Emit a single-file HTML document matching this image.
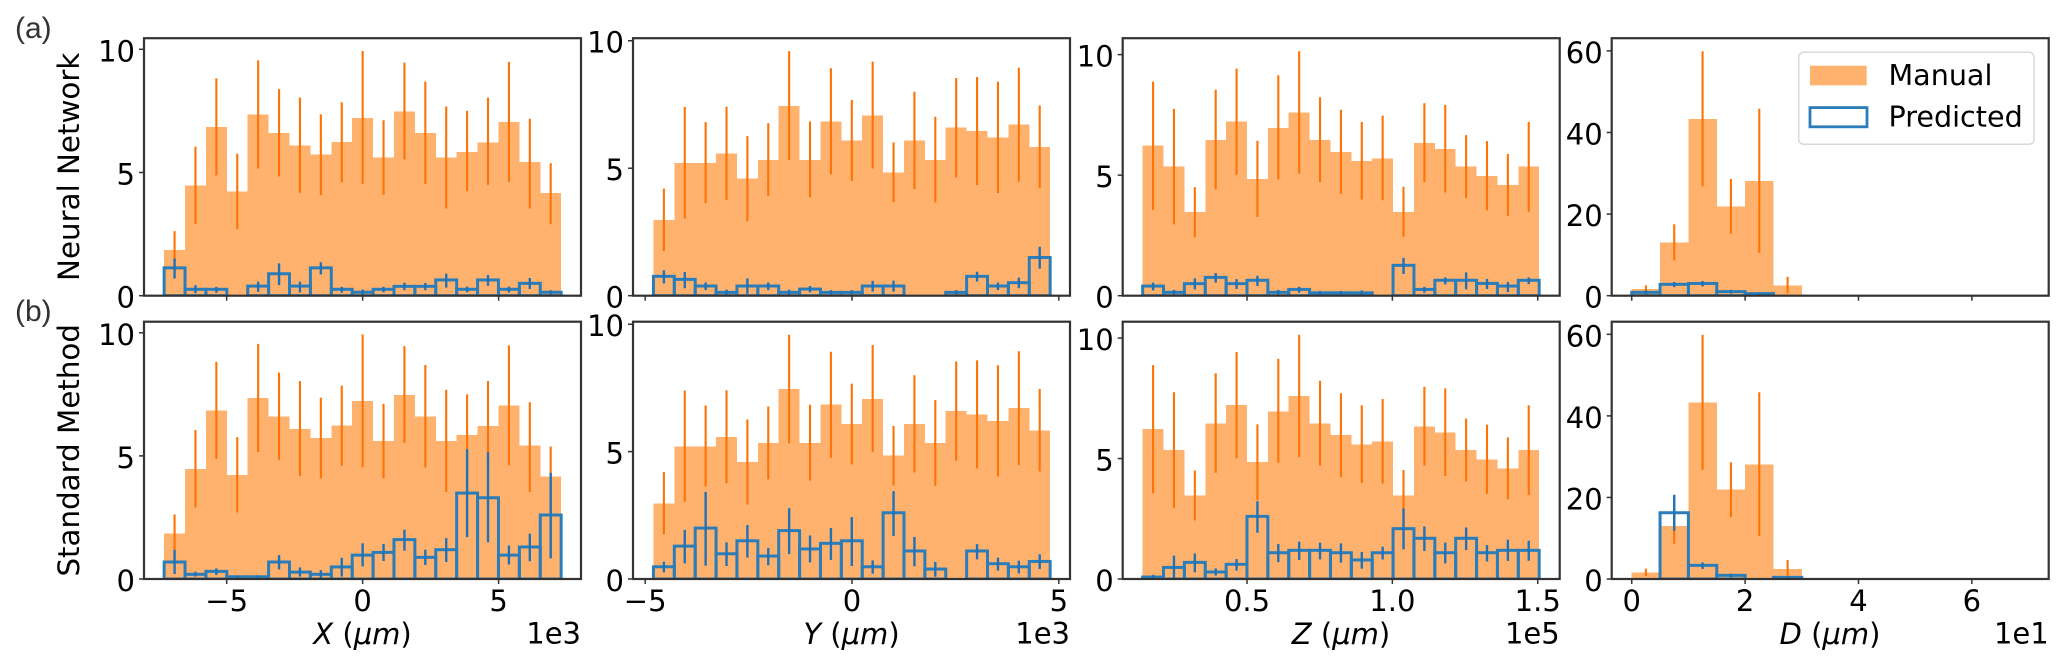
<!DOCTYPE html>
<html lang="en">
<head>
<meta charset="utf-8">
<title>Manual vs predicted histograms</title>
<style>
  html, body { margin: 0; padding: 0; background: #fff; }
  #figure { display: block; width: 2067px; height: 668px; font-family: "DejaVu Sans", "Liberation Sans", sans-serif; }
  #figure text { font-family: "DejaVu Sans", "Liberation Sans", sans-serif; fill: #000; }
  #figure text.letter { font-family: "Liberation Sans", "DejaVu Sans", sans-serif; fill: #333; font-size: 30px; }
  .em { font-style: italic; }
</style>
</head>
<body>
<svg id="figure" xmlns="http://www.w3.org/2000/svg" width="2067" height="668" viewBox="0 0 2067 668">
  <rect x="0" y="0" width="2067" height="668" fill="#ffffff"/>
  <g id="panels"></g>

  <text class="letter" x="15" y="38">(a)</text>
  <text class="letter" x="15" y="321">(b)</text>

  <text x="79" y="166.8" font-size="29.3" text-anchor="middle" transform="rotate(-90 79 166.8)">Neural Network</text>
  <text x="79" y="450.3" font-size="29.3" text-anchor="middle" transform="rotate(-90 79 450.3)">Standard Method</text>

  <text x="362.5" y="644" font-size="29" text-anchor="middle"><tspan class="em">X</tspan> (<tspan class="em">μm</tspan>)</text>
  <text x="851.5" y="644" font-size="29" text-anchor="middle"><tspan class="em">Y</tspan> (<tspan class="em">μm</tspan>)</text>
  <text x="1341" y="644" font-size="29" text-anchor="middle"><tspan class="em">Z</tspan> (<tspan class="em">μm</tspan>)</text>
  <text x="1830" y="644" font-size="29" text-anchor="middle"><tspan class="em">D</tspan> (<tspan class="em">μm</tspan>)</text>

  <text x="581" y="643.5" font-size="29" text-anchor="end">1e3</text>
  <text x="1070" y="643.5" font-size="29" text-anchor="end">1e3</text>
  <text x="1559.7" y="643.5" font-size="29" text-anchor="end">1e5</text>
  <text x="2048.7" y="643.5" font-size="29" text-anchor="end">1e1</text>

  <g id="legend">
    <rect x="1798.7" y="52.3" width="235.3" height="92" rx="5" ry="5" fill="#ffffff" fill-opacity="0.85" stroke="#d9d9d9" stroke-width="1.5"/>
    <rect x="1810" y="65.7" width="56.7" height="19.6" fill="#ffb26e"/>
    <text x="1888.5" y="85" font-size="28.6">Manual</text>
    <rect x="1810" y="107.6" width="57" height="19.2" fill="none" stroke="#2a7db9" stroke-width="2.8"/>
    <text x="1888.5" y="126.7" font-size="28.6">Predicted</text>
  </g>
</svg>

<script>
// ---------- tick values and labels ----------
const xTicksX = [-5, 0, 5];
const xTickLabelsX = ['\u22125', '0', '5'];
const xTicksY = [-5, 0, 5];
const xTickLabelsY = ['\u22125', '0', '5'];
const xTicksZ = [0.5, 1.0, 1.5];
const xTickLabelsZ = ['0.5', '1.0', '1.5'];
const xTicksD = [0, 2, 4, 6];
const xTickLabelsD = ['0', '2', '4', '6'];
const yTicksCount = [0, 5, 10];
const yTickLabelsCount = ['0', '5', '10'];
const yTicksD = [0, 20, 40, 60];
const yTickLabelsD = ['0', '20', '40', '60'];

// ---------- histogram bin ranges ----------
const binRangeX = [-7.3, 7.3];
const binRangeY = [-4.8, 4.79];
const binRangeZ = [0.141, 1.505];
const binRangeD = [0, 7];

// ---------- manual counts and error-bar ends ----------
const manualX   = [1.85,4.47,6.85,4.23,7.35,6.6,6.1,5.73,6.23,7.22,5.6,7.47,6.6,5.6,5.84,6.22,7.05,5.42,4.16];
const manualXHi = [2.62,6.05,8.82,5.76,9.55,8.38,8.04,7.36,7.85,9.93,7.12,9.46,8.69,7.68,7.5,8.04,9.49,7.18,5.38];
const manualXLo = [1.08,2.9,4.88,2.7,5.16,4.84,4.18,4.08,4.6,4.54,4.09,5.53,4.53,3.54,4.24,4.5,4.62,3.54,2.9];

const manualY   = [2.97,5.2,5.2,5.58,4.59,5.33,7.45,5.33,6.84,6.09,7.07,4.84,6.09,5.33,6.59,6.46,6.21,6.71,5.83];
const manualYHi = [4.2,7.4,6.81,7.41,6.26,6.77,9.59,6.84,8.92,7.67,9.18,6.01,8.0,7.02,8.54,8.58,8.39,8.94,7.46];
const manualYLo = [1.75,3.03,3.63,3.76,2.92,3.91,5.32,3.86,4.76,4.5,4.99,3.67,4.18,3.66,4.64,4.34,4.03,4.47,4.22];

const manualZ   = [6.22,5.35,3.47,6.46,7.22,4.85,6.96,7.6,6.46,5.97,5.58,5.7,3.47,6.34,6.09,5.35,4.97,4.59,5.35];
const manualZHi = [8.88,7.75,4.5,8.54,9.42,6.42,9.14,10.14,8.23,7.71,7.21,7.47,4.52,7.98,7.91,6.66,6.41,5.88,7.21];
const manualZLo = [3.56,2.96,2.43,4.41,5.01,3.27,4.82,5.06,4.71,4.23,3.99,3.96,2.44,4.71,4.28,4.05,3.54,3.31,3.48];

const manualD   = [1.63,13,43.3,21.9,28.1,2.45,0,0,0,0,0,0,0,0];
const manualDHi = [2.53,17.5,59.9,28.6,45.8,4.65,0,0,0,0,0,0,0,0];
const manualDLo = [0.73,8.65,26.8,15.2,10.5,0.57,0,0,0,0,0,0,0,0];

// ---------- neural network predicted counts ----------
const nnX   = [1.13,0.26,0.26,0,0.39,0.89,0.39,1.13,0.26,0.14,0.26,0.38,0.38,0.64,0.26,0.64,0.26,0.5,0.14];
const nnXHi = [1.51,0.43,0.36,0,0.57,1.31,0.57,1.36,0.36,0.25,0.36,0.53,0.52,0.89,0.37,0.84,0.37,0.72,0.22];
const nnXLo = [0.7,0.1,0.12,0,0.16,0.43,0.13,0.86,0.12,0.03,0.14,0.22,0.22,0.33,0.14,0.4,0.13,0.27,0.05];

const nnY   = [0.76,0.64,0.38,0.13,0.38,0.38,0.13,0.26,0.13,0.13,0.38,0.38,0,0,0.13,0.76,0.38,0.51,1.5];
const nnYHi = [1.0,0.93,0.52,0.24,0.68,0.52,0.24,0.38,0.22,0.22,0.58,0.59,0,0,0.22,0.94,0.52,0.71,1.92];
const nnYLo = [0.48,0.29,0.22,0.04,0.07,0.22,0.04,0.13,0.05,0.05,0.16,0.16,0,0,0.05,0.55,0.22,0.29,1.06];

const nnZ   = [0.4,0.14,0.5,0.76,0.5,0.64,0.14,0.26,0.12,0.12,0.12,0,1.26,0.26,0.64,0.64,0.51,0.4,0.64];
const nnZHi = [0.54,0.24,0.72,0.94,0.69,0.83,0.24,0.37,0.2,0.2,0.22,0,1.57,0.37,0.76,0.97,0.7,0.57,0.76];
const nnZLo = [0.22,0.04,0.26,0.54,0.28,0.4,0.04,0.12,0.04,0.04,0.03,0,0.9,0.12,0.47,0.26,0.28,0.15,0.48];

const nnD   = [0.82,2.78,3.0,1.0,0.5,0,0,0,0,0,0,0,0,0];
const nnDHi = [1.3,3.35,3.6,1.45,0.75,0,0,0,0,0,0,0,0,0];
const nnDLo = [0.33,2.1,2.3,0.5,0.17,0,0,0,0,0,0,0,0,0];

// ---------- standard method predicted counts ----------
const stdX   = [0.69,0.19,0.31,0.09,0.09,0.69,0.28,0.19,0.49,0.97,1.08,1.6,0.88,1.19,3.49,3.3,0.97,1.3,2.6];
const stdXHi = [1.18,0.3,0.43,0.15,0.15,0.97,0.47,0.36,0.86,1.45,1.42,2.0,1.19,1.66,5.27,5.15,1.36,1.84,4.31];
const stdXLo = [0.2,0.1,0.16,0.03,0.03,0.39,0.1,0.05,0.1,0.51,0.73,1.15,0.57,0.69,1.7,1.49,0.59,0.72,0.84];

const stdY   = [0.48,1.29,2.0,0.99,1.5,0.9,1.9,1.18,1.4,1.5,0.48,2.6,1.1,0.39,0,1.1,0.6,0.48,0.69];
const stdYHi = [0.68,1.93,3.42,1.44,2.12,1.22,2.78,1.71,2.0,2.43,0.73,3.45,1.65,0.67,0,1.37,0.84,0.72,0.97];
const stdYLo = [0.26,0.61,0.52,0.51,0.84,0.54,0.98,0.65,0.75,0.51,0.21,1.69,0.5,0.09,0,0.77,0.33,0.22,0.39];

const stdZ   = [0.08,0.48,0.69,0.29,0.61,2.6,1.09,1.19,1.19,1.09,0.79,1.09,2.09,1.69,1.09,1.69,1.09,1.19,1.19];
const stdZHi = [0.17,0.97,1.06,0.44,0.83,3.23,1.45,1.55,1.51,1.48,1.12,1.34,2.93,2.18,1.51,2.14,1.41,1.63,1.59];
const stdZLo = [0,0.03,0.28,0.14,0.35,1.92,0.7,0.79,0.81,0.68,0.43,0.81,1.23,1.16,0.65,1.2,0.73,0.75,0.76];

const stdD   = [0,16.25,3.35,0.9,0,0.4,0,0,0,0,0,0,0,0];
const stdDHi = [0,20.65,4.08,1.3,0,0.7,0,0,0,0,0,0,0,0];
const stdDLo = [0,11.84,2.45,0.4,0,0.1,0,0,0,0,0,0,0,0];

// ---------- layout (not data) ----------
const NS = 'http://www.w3.org/2000/svg';
const panelWidth = 437;
const rowLayout = [
  { key: 'nn',  top: 38.2,  bottom: 295.7, showLabels: false },
  { key: 'std', top: 321.7, bottom: 579.0, showLabels: true }
];
const columnLayout = [
  { key: 'x', left: 144,    domain: [-8.04, 8.03],    yMax: 10.45, binRange: binRangeX, xTicks: xTicksX, xLabels: xTickLabelsX, yTicks: yTicksCount, yLabels: yTickLabelsCount,
    manual: manualX, manualHi: manualXHi, manualLo: manualXLo,
    nn: [nnX, nnXHi, nnXLo], std: [stdX, stdXHi, stdXLo] },
  { key: 'y', left: 633,    domain: [-5.294, 5.27],   yMax: 10.1,  binRange: binRangeY, xTicks: xTicksY, xLabels: xTickLabelsY, yTicks: yTicksCount, yLabels: yTickLabelsCount,
    manual: manualY, manualHi: manualYHi, manualLo: manualYLo,
    nn: [nnY, nnYHi, nnYLo], std: [stdY, stdYHi, stdYLo] },
  { key: 'z', left: 1122.7, domain: [0.0724, 1.5756], yMax: 10.68, binRange: binRangeZ, xTicks: xTicksZ, xLabels: xTickLabelsZ, yTicks: yTicksCount, yLabels: yTickLabelsCount,
    manual: manualZ, manualHi: manualZHi, manualLo: manualZLo,
    nn: [nnZ, nnZHi, nnZLo], std: [stdZ, stdZHi, stdZLo] },
  { key: 'd', left: 1611.7, domain: [-0.353, 7.355], yMax: 63.1,  binRange: binRangeD, xTicks: xTicksD, xLabels: xTickLabelsD, yTicks: yTicksD, yLabels: yTickLabelsD,
    manual: manualD, manualHi: manualDHi, manualLo: manualDLo,
    nn: [nnD, nnDHi, nnDLo], std: [stdD, stdDHi, stdDLo] }
];

function make(tag, parent) {
  const el = document.createElementNS(NS, tag);
  parent.appendChild(el);
  return el;
}

function xAxis(col) {
  const k = panelWidth / (col.domain[1] - col.domain[0]);
  return function (v) { return col.left + (v - col.domain[0]) * k; };
}

function yAxis(col, row) {
  const k = (row.bottom - row.top) / col.yMax;
  return function (v) { return row.bottom - v * k; };
}

function drawBars(group, values, edges, xs, ys, series) {
  values.forEach(function (v, i) {
    const r = make('rect', group);
    
    
    r.setAttribute('x', xs(edges(i)));
    r.setAttribute('width', xs(edges(i + 1)) - xs(edges(i)));
    r.setAttribute('y', ys(v));
    r.setAttribute('height', ys(0) - ys(v));
    if (series === 'manual') {
      r.setAttribute('fill', '#ffb26e');
      r.setAttribute('shape-rendering', 'crispEdges');
    } else {
      r.setAttribute('fill', 'none');
      r.setAttribute('stroke', '#2a7db9');
      r.setAttribute('stroke-width', '3');
    }
  });
}

function drawErrors(group, hi, lo, edges, xs, ys, series, color, width) {
  hi.forEach(function (h, i) {
    if (h === lo[i]) return;
    const c = xs((edges(i) + edges(i + 1)) / 2);
    const l = make('line', group);
    
    
    l.setAttribute('x1', c);
    l.setAttribute('x2', c);
    l.setAttribute('y1', ys(h));
    l.setAttribute('y2', ys(lo[i]));
    l.setAttribute('stroke', color);
    l.setAttribute('stroke-width', width);
  });
}

const panelsRoot = document.getElementById('panels');
const defs = make('defs', panelsRoot);

rowLayout.forEach(function (row) {
  columnLayout.forEach(function (col) {
    const xs = xAxis(col);
    const ys = yAxis(col, row);
    const bins = col.manual.length;
    const edges = function (i) {
      return col.binRange[0] + (col.binRange[1] - col.binRange[0]) * i / bins;
    };
    const pred = col[row.key];
    const panelId = row.key + '-' + col.key;

    const clip = make('clipPath', defs);
    clip.setAttribute('id', 'clip-' + panelId);
    const clipRect = make('rect', clip);
    clipRect.setAttribute('x', col.left);
    clipRect.setAttribute('y', row.top);
    clipRect.setAttribute('width', panelWidth);
    clipRect.setAttribute('height', row.bottom - row.top);

    const panel = make('g', panelsRoot);
    
    

    const marks = make('g', panel);
    
    
    marks.setAttribute('clip-path', 'url(#clip-' + panelId + ')');

    drawBars(marks, col.manual, edges, xs, ys, 'manual');
    drawBars(marks, pred[0], edges, xs, ys, 'predicted');
    drawErrors(marks, col.manualHi, col.manualLo, edges, xs, ys, 'manual', '#ff7204', 2.1);
    drawErrors(marks, pred[1], pred[2], edges, xs, ys, 'predicted', '#1f72b8', 2.4);

    // y axis
    col.yTicks.forEach(function (t, i) {
      const tick = make('line', panel);
      
      
      tick.setAttribute('x1', col.left - 5);
      tick.setAttribute('x2', col.left);
      tick.setAttribute('y1', ys(t));
      tick.setAttribute('y2', ys(t));
      tick.setAttribute('stroke', '#333');
      tick.setAttribute('stroke-width', '1.5');
      const label = make('text', panel);
      
      
      label.setAttribute('x', col.left - 9);
      label.setAttribute('y', ys(t) + 12);
      label.setAttribute('font-size', '29');
      label.setAttribute('text-anchor', 'end');
      label.textContent = col.yLabels[i];
    });

    // x axis
    col.xTicks.forEach(function (t, i) {
      const tick = make('line', panel);
      
      
      tick.setAttribute('x1', xs(t));
      tick.setAttribute('x2', xs(t));
      tick.setAttribute('y1', row.bottom);
      tick.setAttribute('y2', row.bottom + 5);
      tick.setAttribute('stroke', '#333');
      tick.setAttribute('stroke-width', '1.5');
      if (row.showLabels) {
        const label = make('text', panel);
        
        
        label.setAttribute('x', xs(t));
        label.setAttribute('y', row.bottom + 32);
        label.setAttribute('font-size', '29');
        label.setAttribute('text-anchor', 'middle');
        label.textContent = col.xLabels[i];
      }
    });

    // spines
    const frame = make('rect', panel);
    
    
    frame.setAttribute('x', col.left);
    frame.setAttribute('y', row.top);
    frame.setAttribute('width', panelWidth);
    frame.setAttribute('height', row.bottom - row.top);
    frame.setAttribute('fill', 'none');
    frame.setAttribute('stroke', '#333');
    frame.setAttribute('stroke-width', '2.2');
  });
});
</script>
</body>
</html>
